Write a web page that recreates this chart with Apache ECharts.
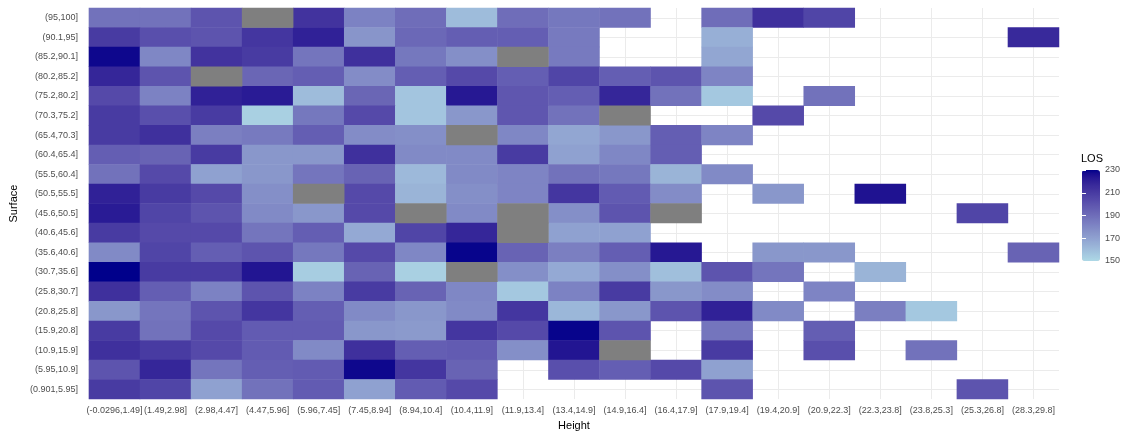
<!DOCTYPE html>
<html>
<head>
<meta charset="utf-8">
<script src="https://cdn.jsdelivr.net/npm/echarts@6/dist/echarts.min.js"></script>
<style>
  html, body { margin: 0; padding: 0; background: #fff; }
  #chart { width: 1126px; height: 436px; }
</style>
</head>
<body>
<div id="chart"></div>
<script>
// x categories (Height bins)
var heightBins = ['(-0.0296,1.49]', '(1.49,2.98]', '(2.98,4.47]', '(4.47,5.96]', '(5.96,7.45]',
  '(7.45,8.94]', '(8.94,10.4]', '(10.4,11.9]', '(11.9,13.4]', '(13.4,14.9]', '(14.9,16.4]',
  '(16.4,17.9]', '(17.9,19.4]', '(19.4,20.9]', '(20.9,22.3]', '(22.3,23.8]', '(23.8,25.3]',
  '(25.3,26.8]', '(28.3,29.8]'];

// y categories (Surface bins), top row first
var surfaceBins = ['(95,100]', '(90.1,95]', '(85.2,90.1]', '(80.2,85.2]', '(75.2,80.2]',
  '(70.3,75.2]', '(65.4,70.3]', '(60.4,65.4]', '(55.5,60.4]', '(50.5,55.5]', '(45.6,50.5]',
  '(40.6,45.6]', '(35.6,40.6]', '(30.7,35.6]', '(25.8,30.7]', '(20.8,25.8]', '(15.9,20.8]',
  '(10.9,15.9]', '(5.95,10.9]', '(0.901,5.95]'];

var NA = 'NA';   // grey tile (value missing)
var _ = null;    // no tile

// mean LOS per cell, one row per surface bin (same order as surfaceBins)
var los = [
  [188, 188, 200, NA, 213, 182, 190, 160, 190, 186, 188, _, 190, 214, 206, _, _, _, _],
  [210, 202, 200, 212, 220, 175, 192, 196, 196, 185, _, _, 165, _, _, _, _, _, 217],
  [228, 180, 213, 210, 187, 214, 186, 177, NA, 185, _, _, 168, _, _, _, _, _, _],
  [218, 200, NA, 193, 196, 178, 196, 204, 196, 206, 196, 200, 181, _, _, _, _, _, _],
  [204, 182, 220, 222, 160, 193, 157, 223, 199, 196, 218, 188, 156, _, 188, _, _, _, _],
  [210, 202, 210, 153, 186, 204, 157, 174, 199, 188, NA, _, _, 204, _, _, _, _, _],
  [210, 214, 183, 185, 196, 178, 177, NA, 180, 168, 174, 196, 181, _, _, _, _, _, _],
  [196, 194, 210, 174, 174, 214, 179, 179, 210, 170, 180, 196, _, _, _, _, _, _, _],
  [188, 204, 170, 174, 187, 194, 161, 179, 181, 188, 186, 163, 179, _, _, _, _, _, _],
  [220, 210, 204, 177, NA, 204, 163, 177, 181, 212, 197, 178, _, 174, _, 225, _, _, _],
  [222, 206, 200, 179, 174, 204, NA, 179, NA, 177, 200, NA, _, _, _, _, _, 206, _],
  [210, 204, 204, 187, 196, 167, 206, 218, NA, 170, 170, _, _, _, _, _, _, _, _],
  [179, 206, 196, 200, 186, 204, 180, 229, 194, 183, 196, 223, _, 174, 174, _, _, _, 194],
  [230, 210, 210, 224, 154, 194, 153, NA, 177, 167, 177, 159, 200, 187, _, 163, _, _, _],
  [214, 196, 182, 200, 182, 210, 194, 180, 156, 182, 210, 174, 178, _, 181, _, _, _, _],
  [174, 187, 200, 212, 196, 179, 174, 179, 212, 162, 174, 200, 220, 179, _, 183, 156, _, _],
  [210, 188, 204, 197, 197, 174, 173, 212, 204, 229, 200, _, 187, _, 196, _, _, _, _],
  [214, 210, 204, 197, 179, 214, 196, 197, 177, 224, NA, _, 210, _, 202, _, 188, _, _],
  [200, 218, 187, 196, 197, 228, 212, 194, _, 202, 196, 204, 170, _, _, _, _, _, _],
  [210, 206, 170, 188, 197, 170, 197, 204, _, _, _, _, 200, _, _, _, _, 200, _]
];

var losMin = 150;
var losMax = 230;
var losTickStep = 20;

// --- colour ramp: lightblue -> darkblue interpolated in CIELAB (like ggplot) ---
function toLin(c) { c = c / 255; return c <= 0.04045 ? c / 12.92 : Math.pow((c + 0.055) / 1.055, 2.4); }
function toSrgb(c) {
  c = c <= 0.0031308 ? 12.92 * c : 1.055 * Math.pow(c, 1 / 2.4) - 0.055;
  return Math.round(Math.min(1, Math.max(0, c)) * 255);
}
function hexToLab(hex) {
  var r = toLin(parseInt(hex.substr(1, 2), 16));
  var g = toLin(parseInt(hex.substr(3, 2), 16));
  var b = toLin(parseInt(hex.substr(5, 2), 16));
  var x = (0.4124 * r + 0.3576 * g + 0.1805 * b) / 0.95047;
  var y = 0.2126 * r + 0.7152 * g + 0.0722 * b;
  var z = (0.0193 * r + 0.1192 * g + 0.9505 * b) / 1.08883;
  var f = function (t) { return t > 0.008856 ? Math.cbrt(t) : 7.787 * t + 16 / 116; };
  var fx = f(x), fy = f(y), fz = f(z);
  return [116 * fy - 16, 500 * (fx - fy), 200 * (fy - fz)];
}
function labToHex(lab) {
  var fy = (lab[0] + 16) / 116, fx = fy + lab[1] / 500, fz = fy - lab[2] / 200;
  var inv = function (t) { return t * t * t > 0.008856 ? t * t * t : (t - 16 / 116) / 7.787; };
  var x = inv(fx) * 0.95047, y = inv(fy), z = inv(fz) * 1.08883;
  var r = 3.2406 * x - 1.5372 * y - 0.4986 * z;
  var g = -0.9689 * x + 1.8758 * y + 0.0415 * z;
  var b = 0.0557 * x - 0.2040 * y + 1.0570 * z;
  return '#' + [r, g, b].map(function (c) { var h = toSrgb(c).toString(16); return h.length < 2 ? '0' + h : h; }).join('');
}
function labRamp(lo, hi, n) {
  var a = hexToLab(lo), b = hexToLab(hi), out = [];
  for (var i = 0; i <= n; i++) {
    var t = i / n;
    out.push(labToHex([a[0] + (b[0] - a[0]) * t, a[1] + (b[1] - a[1]) * t, a[2] + (b[2] - a[2]) * t]));
  }
  return out;
}
var ramp = labRamp('#add8e6', '#00008b', 24);

// build series data
var tiles = [], naTiles = [];
for (var r = 0; r < los.length; r++) {
  for (var c = 0; c < los[r].length; c++) {
    var v = los[r][c];
    if (v === NA) naTiles.push([c, r, 0]);
    else if (v !== null) tiles.push([c, r, v]);
  }
}

var font = 'Liberation Sans, Arial, Helvetica, sans-serif';
var gridLine = { show: true, lineStyle: { color: '#ebebeb', width: 1 } };

var chart = echarts.init(document.getElementById('chart'));
chart.setOption({
  animation: false,
  textStyle: { fontFamily: font },
  title: {
    text: 'LOS', left: 1081, top: 153, padding: 0,
    textStyle: { fontSize: 11, fontWeight: 'normal', color: '#000', fontFamily: font }
  },
  grid: [
    { left: 85, right: 67, top: 8, bottom: 33 },
    { left: 1082, top: 170, width: 18, height: 91 }
  ],
  xAxis: [
    {
      type: 'category', gridIndex: 0, data: heightBins,
      axisLine: { show: false }, axisTick: { show: false }, splitLine: { show: false },
      axisLabel: { interval: 0, color: '#4d4d4d', fontSize: 9, margin: 7 },
      name: 'Height', nameLocation: 'middle', nameGap: 18,
      nameTextStyle: { color: '#000', fontSize: 11 }
    },
    {
      // helper axis: grid lines through the tile centres
      type: 'value', gridIndex: 0, min: 0, max: heightBins.length * 2, interval: 2,
      axisLine: { show: false }, axisTick: { show: false }, axisLabel: { show: false },
      splitLine: { show: false }, minorTick: { show: false, splitNumber: 2 },
      minorSplitLine: gridLine
    },
    { type: 'value', gridIndex: 1, min: 0, max: 1, show: false }
  ],
  yAxis: [
    {
      type: 'category', gridIndex: 0, data: surfaceBins, inverse: true,
      axisLine: { show: false }, axisTick: { show: false }, splitLine: { show: false },
      axisLabel: { interval: 0, color: '#4d4d4d', fontSize: 9, margin: 11 },
      name: 'Surface', nameLocation: 'middle', nameRotate: 90, nameGap: 58,
      nameTextStyle: { color: '#000', fontSize: 11 }
    },
    {
      type: 'value', gridIndex: 0, min: 0, max: surfaceBins.length * 2, interval: 2,
      axisLine: { show: false }, axisTick: { show: false }, axisLabel: { show: false },
      splitLine: { show: false }, minorTick: { show: false, splitNumber: 2 },
      minorSplitLine: gridLine
    },
    {
      // colour bar labels
      type: 'value', gridIndex: 1, position: 'right', min: losMin, max: losMax, interval: losTickStep, z: 10,
      axisLine: { show: false }, splitLine: { show: false },
      axisTick: { show: true, inside: true, length: 4, lineStyle: { color: '#fff', width: 1 } },
      axisLabel: { color: '#4d4d4d', fontSize: 9, margin: 5 }
    },
    {
      type: 'value', gridIndex: 1, position: 'left', min: losMin, max: losMax, interval: losTickStep, z: 10,
      axisLine: { show: false }, splitLine: { show: false }, axisLabel: { show: false },
      axisTick: { show: true, inside: true, length: 4, lineStyle: { color: '#fff', width: 1 } }
    }
  ],
  visualMap: {
    type: 'continuous', seriesIndex: 0, min: losMin, max: losMax, calculable: false,
    orient: 'vertical', left: 1082, top: 170, itemWidth: 18, itemHeight: 91, padding: 0,
    text: null, showLabel: false,
    inRange: { color: ramp }
  },
  series: [
    {
      type: 'heatmap', xAxisIndex: 0, yAxisIndex: 0, data: tiles,
      emphasis: { disabled: true }
    },
    {
      type: 'heatmap', xAxisIndex: 0, yAxisIndex: 0, data: naTiles,
      itemStyle: { color: '#7f7f7f' }, emphasis: { disabled: true }
    }
  ]
});
</script>
</body>
</html>
